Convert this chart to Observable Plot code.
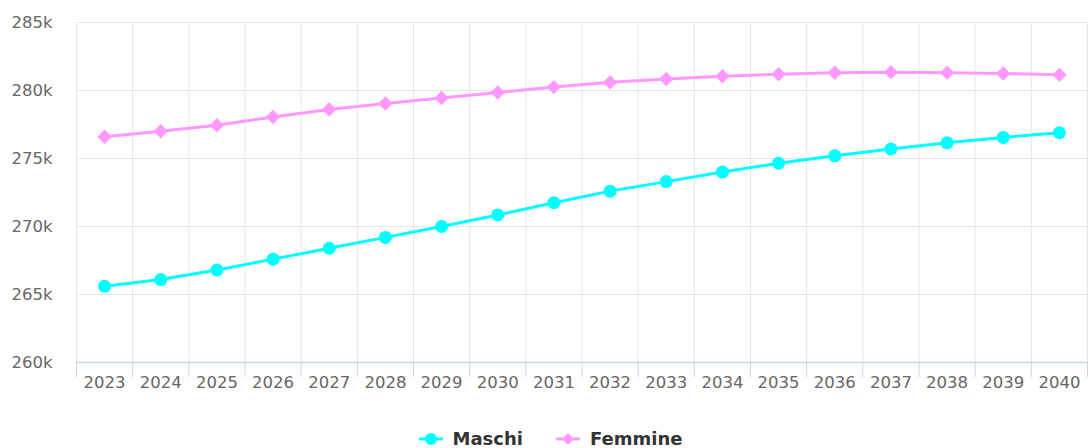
<!DOCTYPE html>
<html>
<head>
<meta charset="utf-8">
<script src="https://cdn.jsdelivr.net/npm/d3@7"></script>
<script src="https://cdn.jsdelivr.net/npm/@observablehq/plot@0.6"></script>
<style>
  html, body { margin: 0; padding: 0; background: #fff; overflow: hidden; }
  #chart svg { display: block; }
  .legend { display: flex; justify-content: center; gap: 33px; height: 26px; padding-top: 6px;
    font-family: "DejaVu Sans", sans-serif; font-weight: bold; font-size: 18px; color: #333; line-height: 24px; padding-left: 12px; }
  .legend .item { display: flex; align-items: center; gap: 10px; }
</style>
</head>
<body>
<div id="chart"></div>
<div class="legend" id="legend"></div>
<script>
const years = [2023,2024,2025,2026,2027,2028,2029,2030,2031,2032,2033,2034,2035,2036,2037,2038,2039,2040];
const maschi = [265600,266100,266800,267600,268400,269200,270000,270850,271750,272600,273300,274000,274650,275200,275700,276150,276550,276900];
const femmine = [276600,277000,277450,278050,278600,279050,279450,279850,280250,280600,280850,281050,281200,281300,281350,281300,281250,281150];
const seriesNames = ["Maschi", "Femmine"];
const seriesColors = ["#00ffff", "#ff99ff"];
const yTicks = [260000,265000,270000,275000,280000,285000];

const data = [];
years.forEach((y, i) => {
  data.push({year: y, value: maschi[i], series: seriesNames[0]});
  data.push({year: y, value: femmine[i], series: seriesNames[1]});
});
const boundaries = d3.range(years[0] - 0.5, years[years.length - 1] + 1, 1);
const mData = data.filter(d => d.series === "Maschi");
const fData = data.filter(d => d.series === "Femmine");

const chart = Plot.plot({
  width: 1089,
  height: 420,
  marginLeft: 76,
  marginRight: 2,
  marginTop: 22,
  marginBottom: 58,
  style: {fontFamily: "DejaVu Sans, sans-serif", fontSize: "16.5px", color: "#666", background: "#fff"},
  x: {domain: [years[0] - 0.5, years[years.length - 1] + 0.5]},
  y: {domain: [260000, 285000]},
  marks: [
    Plot.ruleY(yTicks, {stroke: "#e6e6e6", strokeWidth: 1}),
    Plot.ruleX(boundaries, {stroke: "#e6e6e6", strokeWidth: 1}),
    Plot.axisY({ticks: yTicks, tickSize: 0, tickPadding: 24, tickFormat: d => (d / 1000) + "k", label: null, fill: "#666"}),
    Plot.axisX({ticks: boundaries, tickSize: 15, tickFormat: () => "", label: null, stroke: "#ccd6eb"}),
    Plot.axisX({ticks: years, tickSize: 0, tickPadding: 14, tickFormat: d => String(d), label: null, fill: "#666"}),
    Plot.ruleY([260000], {stroke: "#ccd6eb", strokeWidth: 1.5}),
    Plot.line(fData, {x: "year", y: "value", stroke: seriesColors[1], strokeWidth: 3}),
    Plot.dot(fData, {x: "year", y: "value", fill: seriesColors[1], symbol: "diamond2", r: 6.5}),
    Plot.line(mData, {x: "year", y: "value", stroke: seriesColors[0], strokeWidth: 3}),
    Plot.dot(mData, {x: "year", y: "value", fill: seriesColors[0], symbol: "circle", r: 6.5})
  ]
});
document.getElementById("chart").appendChild(chart);

const legend = document.getElementById("legend");
seriesNames.forEach((name, i) => {
  const item = document.createElement("div");
  item.className = "item";
  const sym = i === 0
    ? `<svg width="24" height="14"><line x1="0" y1="7" x2="24" y2="7" stroke="${seriesColors[i]}" stroke-width="3"/><circle cx="12" cy="7" r="6" fill="${seriesColors[i]}"/></svg>`
    : `<svg width="24" height="14"><line x1="0" y1="7" x2="24" y2="7" stroke="${seriesColors[i]}" stroke-width="3"/><path d="M12 1 L18 7 L12 13 L6 7 Z" fill="${seriesColors[i]}"/></svg>`;
  item.innerHTML = sym + `<span>${name}</span>`;
  legend.appendChild(item);
});
</script>
</body>
</html>
